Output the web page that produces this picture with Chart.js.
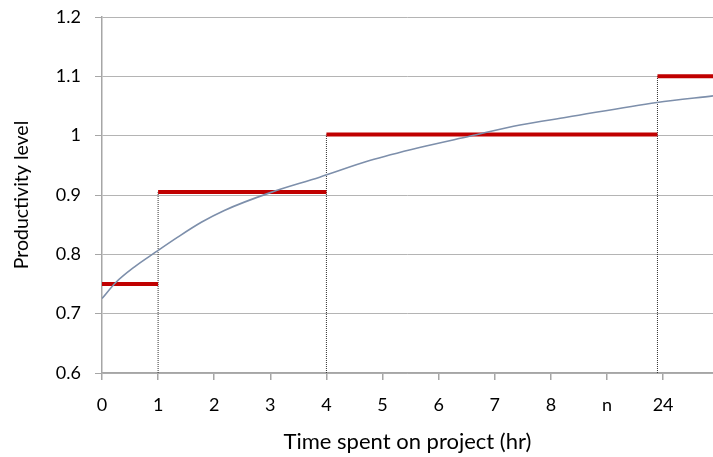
<!DOCTYPE html>
<html><head><meta charset="utf-8">
<script src="https://cdn.jsdelivr.net/npm/chart.js@4/dist/chart.umd.min.js"></script>
<style>html,body{margin:0;padding:0;background:#fff}#wrap{width:713px;height:457px;position:relative}</style>
</head><body><div id="wrap"><canvas id="c"></canvas></div>
<script>
// x tick labels (evenly spaced category positions)
const tickLabels = ['0','1','2','3','4','5','6','7','8','n','24'];
// step levels: [start position, end position, level]
const stepStarts = [0, 1, 4, 9.9];
const stepEnds   = [1, 4, 9.9, 10.89];
const stepLevels = [0.75, 0.905, 1.002, 1.1];
// vertical dotted markers at step boundaries
const markerX   = [1, 4, 9.9];
const markerTop = [0.905, 1.002, 1.1];
// smooth productivity curve (position, level)
const curveX = [0, 0.25, 0.58, 0.96, 1.35, 1.77, 2.18, 3.0, 3.88, 4.77, 5.66, 6.55, 7.45, 8.28, 9.89, 10.89];
const curveY = [0.7255, 0.753, 0.779, 0.804, 0.829, 0.854, 0.874, 0.904, 0.930, 0.958, 0.980, 0.999, 1.018, 1.031, 1.056, 1.067];

const stepData = [];
stepLevels.forEach((v,i)=>{ stepData.push({x:stepStarts[i],y:v},{x:stepEnds[i],y:v}); if(i<stepLevels.length-1) stepData.push({x:stepEnds[i],y:null}); });
const markerData = [];
markerX.forEach((x,i)=>{ markerData.push({x:x,y:0.6},{x:x,y:markerTop[i]}); if(i<markerX.length-1) markerData.push({x:x,y:null}); });
const curveData = curveX.map((x,i)=>({x:x,y:curveY[i]}));

const FONT = 'Lato';
new Chart(document.getElementById('c'), {
  type:'line',
  data:{datasets:[
    {data:curveData, borderColor:'#7d8fab', borderWidth:1.6, pointRadius:0, cubicInterpolationMode:'monotone', order:0},
    {data:stepData, borderColor:'#c00000', borderWidth:4, pointRadius:0, spanGaps:false, order:1, borderCapStyle:'butt'},
    {data:markerData, borderColor:'#333333', borderWidth:1, borderDash:[1,1], pointRadius:0, spanGaps:false, order:2}
  ]},
  options:{
    responsive:true, maintainAspectRatio:false, animation:false,
    layout:{padding:{top:17,right:0,left:0,bottom:0}},
    plugins:{legend:{display:false}, tooltip:{enabled:false}},
    scales:{
      x:{type:'linear', min:0, max:10.89,
        afterBuildTicks:(s)=>{s.ticks=tickLabels.map((_,i)=>({value:i}));},
        afterFit:(s)=>{s.height=84;},
        ticks:{callback:(v)=>tickLabels[v], color:'#000', font:{family:FONT,size:18}, padding:14, autoSkip:false, maxRotation:0},
        grid:{drawOnChartArea:false, tickLength:7, color:'#a6a6a6', lineWidth:1.5},
        border:{color:'#a6a6a6', width:1.5},
        title:{display:true, text:'Time spent on project (hr)', color:'#000', font:{family:FONT,size:22}, padding:{top:6,bottom:2}}
      },
      y:{min:0.6, max:1.2,
        afterFit:(s)=>{s.width=102; s.paddingTop=0; s.paddingBottom=0;},
        ticks:{stepSize:0.1, color:'#000', font:{family:FONT,size:18}, padding:14, callback:(v)=>String(Math.round(v*10)/10)},
        grid:{color:'#b4b4b4', lineWidth:1, borderDash:[1,2], tickBorderDash:[], tickColor:'#a6a6a6', tickLength:7},
        border:{color:'#a6a6a6', width:1.5},
        title:{display:true, text:'Productivity level', color:'#000', font:{family:FONT,size:19.5}, padding:{top:10,bottom:0}}
      }
    }
  }
});
</script></body></html>
